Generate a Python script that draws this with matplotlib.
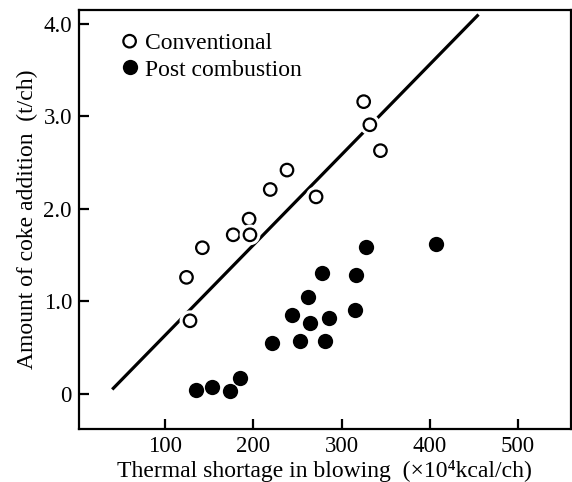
import numpy as np
import matplotlib
matplotlib.use("Agg")
from matplotlib import pyplot as plt
from matplotlib import patheffects as pe

plt.rcParams['font.family'] = ['Liberation Serif', 'DejaVu Serif']

# conventional operation (open circles)
conv_x = [124, 128, 142, 177, 195, 196, 219, 238, 271, 325, 332, 344]
conv_y = [1.26, 0.79, 1.58, 1.72, 1.89, 1.72, 2.21, 2.42, 2.13, 3.16, 2.91, 2.63]

# post combustion (filled circles)
post_x = [135, 153, 173, 185, 221, 244, 253, 264, 262, 278, 281, 286, 315, 316, 328, 407]
post_y = [0.04, 0.07, 0.03, 0.17, 0.55, 0.85, 0.57, 0.77, 1.05, 1.31, 0.57, 0.82, 0.91, 1.28, 1.59, 1.62]

# regression line for conventional data
line_x = [41, 454]
line_y = [0.06, 4.09]

xticks = [100, 200, 300, 400, 500]
yticks = [0, 1, 2, 3, 4]
ytick_labels = ['0', '1.0', '2.0', '3.0', '4.0']

fig = plt.figure(figsize=(5.72, 4.82), dpi=100)
ax = fig.add_axes([0.138, 0.110, 0.860, 0.869])

ax.plot(line_x, line_y, color='black', lw=2.3, zorder=1)
halo = [pe.withStroke(linewidth=6, foreground='white')]
ax.plot(conv_x, conv_y, 'o', ms=9, mfc='white', mec='black', mew=1.6,
        label='Conventional', zorder=3, path_effects=halo)
ax.plot(post_x, post_y, 'o', ms=11, mfc='black', mec='black', mew=0,
        label='Post combustion', zorder=3)

ax.set_xlim(2, 560)
ax.set_ylim(-0.38, 4.15)
ax.set_xticks(xticks)
ax.set_yticks(yticks)
ax.set_yticklabels(ytick_labels)
ax.tick_params(direction='in', length=7, width=1.6, labelsize=16.5, pad=5)
for s in ax.spines.values():
    s.set_linewidth(1.6)

ax.set_xlabel('Thermal shortage in blowing  (\u00d710\u2074kcal/ch)', fontsize=17, labelpad=2)
ax.set_ylabel('Amount of coke addition  (t/ch)', fontsize=17, labelpad=4)

leg = ax.legend(loc='upper left', frameon=False, fontsize=17, handlelength=0.6,
                handletextpad=0.35, labelspacing=0.2, borderaxespad=0.3,
                bbox_to_anchor=(0.055, 0.985))

fig.savefig('out.png', dpi=100)
